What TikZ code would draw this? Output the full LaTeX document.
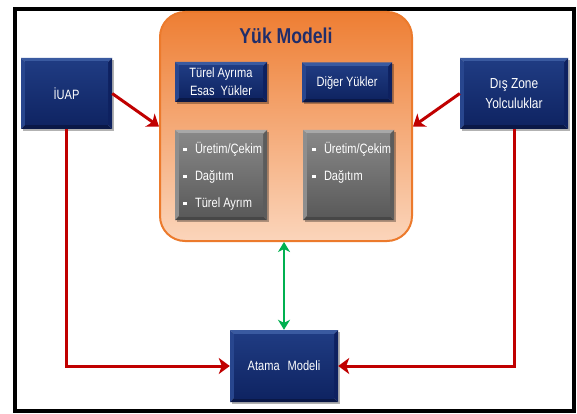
\documentclass[tikz,border=0pt]{standalone}
\usepackage{fontspec}
\setmainfont{Liberation Sans}
\newfontfamily\narrowfont[FakeStretch=0.82]{Liberation Sans}
\usetikzlibrary{arrows.meta,shadows}
\definecolor{navyT}{HTML}{3A5AA0}
\definecolor{navyL}{HTML}{28468E}
\definecolor{navyB}{HTML}{0A1847}
\definecolor{navyR}{HTML}{0E2160}
\definecolor{navyIT}{HTML}{1F3B82}
\definecolor{navyIB}{HTML}{0F2462}
\definecolor{grayT}{HTML}{A8A8A8}
\definecolor{grayL}{HTML}{8E8E8E}
\definecolor{grayB}{HTML}{474747}
\definecolor{grayR}{HTML}{5C5C5C}
\definecolor{grayIT}{HTML}{878787}
\definecolor{grayIB}{HTML}{5A5A5A}
\definecolor{orgTop}{HTML}{EE7E33}
\definecolor{orgMid}{HTML}{F5B081}
\definecolor{orgBot}{HTML}{FBD5BB}
\definecolor{orgEdge}{HTML}{EC7A2C}
\definecolor{titleblue}{HTML}{1F2D6B}
\definecolor{arrowred}{HTML}{C00000}
\definecolor{arrowgreen}{HTML}{00B050}
\newcommand{\bul}{\rule[2.8pt]{3.5pt}{3.5pt}\hspace{8.5pt}}
\tikzset{
  bevel/.style n args={7}{path picture={
    \fill[#1] (path picture bounding box.north west) -- (path picture bounding box.north east)
      -- ([shift={(-#7,-#7)}]path picture bounding box.north east)
      -- ([shift={(#7,-#7)}]path picture bounding box.north west) -- cycle;
    \fill[#2] (path picture bounding box.north west) -- ([shift={(#7,-#7)}]path picture bounding box.north west)
      -- ([shift={(#7,#7)}]path picture bounding box.south west) -- (path picture bounding box.south west) -- cycle;
    \fill[#3] (path picture bounding box.south west) -- ([shift={(#7,#7)}]path picture bounding box.south west)
      -- ([shift={(-#7,#7)}]path picture bounding box.south east) -- (path picture bounding box.south east) -- cycle;
    \fill[#4] (path picture bounding box.south east) -- ([shift={(-#7,#7)}]path picture bounding box.south east)
      -- ([shift={(-#7,-#7)}]path picture bounding box.north east) -- (path picture bounding box.north east) -- cycle;
    \shade[top color=#5, bottom color=#6] ([shift={(#7,-#7)}]path picture bounding box.north west)
      rectangle ([shift={(-#7,#7)}]path picture bounding box.south east);
  }},
  boxshadow/.style={drop shadow={shadow xshift=1.5pt,shadow yshift=-2pt,opacity=0.3,fill=black}},
  bluebox/.style={rectangle, inner sep=0pt, align=center, text=white, boxshadow,
    font=\narrowfont\fontsize{13.5}{18}\selectfont,
    bevel={navyT}{navyL}{navyB}{navyR}{navyIT}{navyIB}{4pt}},
  graybox/.style={rectangle, inner sep=0pt, boxshadow,
    bevel={grayT}{grayL}{grayB}{grayR}{grayIT}{grayIB}{4pt}},
  graytxt/.style={inner sep=0pt, text=white, font=\narrowfont\fontsize{13.5}{16}\selectfont},
  redarrow/.style={draw=arrowred, line width=3pt, -{Stealth[length=11pt,width=16pt,inset=3pt]}},
  greenarrow/.style={draw=arrowgreen, line width=2.5pt,
    {Stealth[length=10pt,width=12pt,inset=3pt]}-{Stealth[length=10pt,width=12pt,inset=3pt]}},
}
\begin{document}
\begin{tikzpicture}[x=1pt,y=-1pt]
\useasboundingbox (0,0) rectangle (577,414);
\fill[white] (0,0) rectangle (577,414);
\draw[line width=4pt] (15.3,8.7) rectangle (574,410.5);

% Yuk Modeli container
\node[draw=orgEdge, line width=2pt, rounded corners=25pt, top color=orgTop, middle color=orgMid, bottom color=orgBot,
      minimum width=252pt, minimum height=229pt, inner sep=0pt] (yuk) at (286,126.5) {};
\node[text=titleblue, font=\narrowfont\bfseries\fontsize{21.5}{24}\selectfont, inner sep=0pt] (ttl) at (286,36) {Yük Modeli};

\node[bluebox, minimum width=92pt, minimum height=40pt] (turel) at (221,82)
  {Türel Ayrıma\\[0pt]Esas\hspace{6pt}Yükler};
\node[bluebox, minimum width=90pt, minimum height=40pt] (diger) at (347,82.5) {Diğer Yükler};

\node[graybox, minimum width=92pt, minimum height=90pt] (g1) at (221,175) {};
\node[graybox, minimum width=91pt, minimum height=90pt] (g2) at (348.5,175) {};

\node[graytxt, anchor=base west] (g1a) at ([shift={(8pt,-24pt)}]g1.north west) {\bul Üretim/Çekim};
\node[graytxt, anchor=base west] (g1b) at ([shift={(8pt,-51pt)}]g1.north west) {\bul Dağıtım};
\node[graytxt, anchor=base west] (g1c) at ([shift={(8pt,-78pt)}]g1.north west) {\bul Türel Ayrım};
\node[graytxt, anchor=base west] (g2a) at ([shift={(9pt,-24pt)}]g2.north west) {\bul Üretim/Çekim};
\node[graytxt, anchor=base west] (g2b) at ([shift={(9pt,-51pt)}]g2.north west) {\bul Dağıtım};

% side boxes
\node[bluebox, minimum width=91pt, minimum height=71pt] (iuap) at (66.5,93.5) {İUAP};
\node[bluebox, minimum width=108pt, minimum height=71pt, font=\narrowfont\fontsize{14.5}{20}\selectfont] (dis) at (514,93.5)
  {Dış Zone\\Yolculuklar};
\node[bluebox, minimum width=108pt, minimum height=72pt] (atama) at (284,366) {Atama\hspace{8pt}Modeli};

% connectors
\draw[redarrow] (iuap.east) -- (yuk.west);
\draw[redarrow] (dis.west) -- (yuk.east);
\draw[redarrow] (iuap.south) |- (atama.west);
\draw[redarrow] (dis.south) |- (atama.east);
\draw[greenarrow] (atama.north |- yuk.south) -- (atama.north);
\end{tikzpicture}
\end{document}
